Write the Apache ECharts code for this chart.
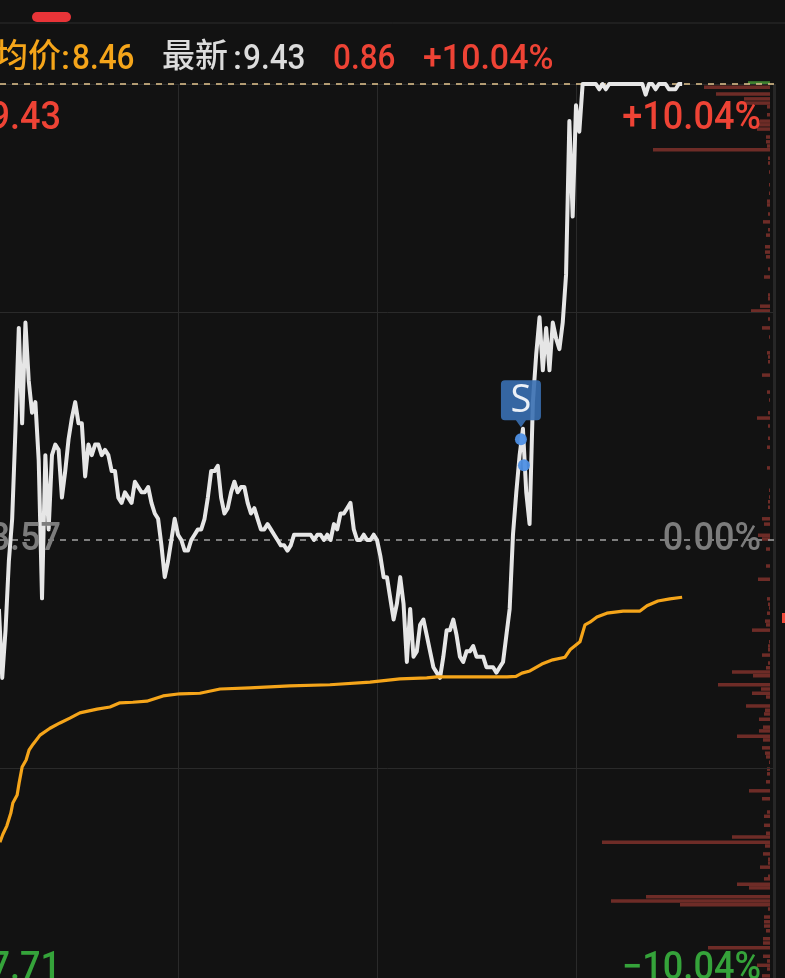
<!DOCTYPE html>
<html><head><meta charset="utf-8">
<style>html,body{margin:0;padding:0;background:#121212;overflow:hidden}#c{width:785px;height:978px}</style>
<script src="https://cdn.jsdelivr.net/npm/echarts@6/dist/echarts.min.js"></script>
</head><body><div id="c"></div>
<script>
const preClose = 8.57, limitUp = 9.43, visibleLow = 7.744;
const gridPrices = [9.43, 9.002, 8.138];
const gridMinutes = [60, 120, 180];
const visibleStartMinute = 6.33, endMinute = 240;
const startMinute = 6;
const prices = [
8.44,8.31,8.40,8.53,8.61,8.78,8.97,8.79,8.98,8.87,
8.81,8.83,8.72,8.46,8.73,8.59,8.73,8.75,8.74,8.65,
8.70,8.76,8.80,8.83,8.79,8.79,8.69,8.75,8.73,8.75,
8.75,8.73,8.74,8.73,8.70,8.70,8.65,8.64,8.66,8.65,
8.64,8.68,8.67,8.66,8.66,8.67,8.64,8.62,8.61,8.56,
8.50,8.53,8.57,8.61,8.58,8.57,8.55,8.55,8.57,8.58,
8.59,8.59,8.61,8.65,8.70,8.70,8.71,8.65,8.62,8.63,
8.66,8.68,8.66,8.67,8.67,8.64,8.62,8.63,8.61,8.59,
8.59,8.60,8.59,8.58,8.57,8.56,8.56,8.55,8.56,8.58,
8.58,8.58,8.58,8.58,8.58,8.57,8.58,8.58,8.57,8.58,
8.57,8.60,8.59,8.62,8.62,8.63,8.64,8.59,8.57,8.57,
8.58,8.57,8.57,8.58,8.57,8.54,8.50,8.50,8.46,8.42,
8.45,8.50,8.45,8.34,8.44,8.35,8.36,8.41,8.42,8.39,
8.36,8.33,8.32,8.31,8.35,8.40,8.40,8.42,8.39,8.35,
8.34,8.36,8.36,8.37,8.35,8.35,8.35,8.33,8.33,8.33,
8.32,8.33,8.34,8.39,8.44,8.58,8.66,8.73,8.78,8.66,
8.60,8.83,8.92,8.99,8.89,8.97,8.89,8.98,8.95,8.93,
8.98,9.07,9.36,9.18,9.39,9.34,9.43,9.43,9.43,9.43,
9.43,9.42,9.43,9.42,9.43,9.43,9.43,9.43,9.43,9.43,
9.43,9.43,9.43,9.43,9.43,9.41,9.43,
9.43,9.42,9.43,9.43,9.43,9.42,9.42,9.42,9.43,9.43
];
const avgMinutes = [6.3,7.2,8.4,9.6,10.2,11.5,12.1,13,14.2,15.1,16.3,18.4,21.4,24.4,27.4,30.4,35.6,39.5,42.5,46.4,50.6,55.5,60.6,66.6,72.7,81.7,93.7,105.8,117.9,126.9,135,138,159.2,161.9,163.7,166.1,169.7,173,176.7,178.2,181.2,182.7,184.2,186.3,189.3,194.2,199.3,201.4,204.7,208.3,212];
const avgPrices = [8.000,8.015,8.031,8.055,8.074,8.089,8.112,8.142,8.155,8.174,8.185,8.202,8.215,8.225,8.234,8.244,8.251,8.255,8.263,8.264,8.266,8.276,8.280,8.281,8.289,8.291,8.295,8.297,8.302,8.308,8.310,8.312,8.312,8.313,8.319,8.323,8.336,8.344,8.349,8.363,8.378,8.410,8.415,8.425,8.432,8.436,8.436,8.446,8.455,8.459,8.462];
const volPrices = [9.424,9.411,9.402,9.394,9.387,9.372,9.360,9.353,9.345,9.330,9.321,9.313,9.306,9.290,9.281,9.264,9.240,9.224,9.209,9.202,9.185,9.170,9.155,9.145,9.123,9.113,9.104,9.081,9.066,9.032,9.025,9.011,9.002,8.987,8.970,8.953,8.923,8.915,8.906,8.881,8.849,8.834,8.810,8.800,8.785,8.762,8.745,8.706,8.664,8.651,8.642,8.632,8.610,8.600,8.579,8.572,8.553,8.521,8.496,8.459,8.449,8.442,8.432,8.417,8.410,8.400,8.378,8.370,8.363,8.353,8.338,8.329,8.321,8.314,8.297,8.289,8.281,8.274,8.257,8.249,8.242,8.232,8.217,8.210,8.200,8.193,8.178,8.168,8.161,8.151,8.138,8.129,8.114,8.097,8.082,8.057,8.049,8.032,8.017,8.010,8.000,7.993,7.978,7.968,7.961,7.953,7.936,7.931,7.921,7.914,7.897,7.889,7.882,7.874,7.859,7.850,7.842,7.833,7.818,7.810,7.801,7.785,7.776,7.768,7.761,7.748];
const volAmounts = [66,54,26,30,3,3,10,12,13,4,4,3,117,2,2,1,1,1,3,3,2,7,2,4,5,5,4,2,6,2,2,10,19,2,8,1,3,2,2,8,3,1,2,13,2,2,3,3,1,1,2,2,8,6,12,8,4,4,12,3,2,1,3,5,4,18,1,2,2,8,2,4,38,17,52,9,18,4,24,5,6,11,7,11,33,7,8,5,4,1,3,3,4,21,8,3,6,6,4,38,168,5,7,2,2,10,2,6,33,21,124,159,90,2,6,6,6,4,7,7,62,7,3,13,3,8];
const greenVol = [[22, 9.432]];
const signalDots = [[163.4, 8.76],[164.3, 8.711]];
const signalFlag = [[163.4, 8.827]];
const headerAvgName = '均价', headerAvg = '8.46', headerLastName = '最新', headerLast = '9.43', headerChange = '0.86', headerPct = '+10.04%';
const leftLabels = ['9.43','8.57','7.71'];
const rightLabels = ['+10.04%','0.00%','−10.04%'];

const BG='#121212', GRID='#2a2a2a', RED='#ee4335', GREEN='#35a33a', GREY='#7c7c7c', ORANGE='#f5a51a';
const FF='Roboto,"Noto Sans CJK SC",sans-serif';
const lineData = prices.map((p,i)=>[startMinute+i,p]);
const avgData = avgPrices.map((p,i)=>[avgMinutes[i],p]);
const volData = volPrices.map((p,i)=>[volAmounts[i],p]);

function barItem(color){return function(params,api){
  const a=api.coord([api.value(0),api.value(1)]), b=api.coord([0,api.value(1)]);
  const h=api.size([0,0.0066])[1];
  return {type:'rect',shape:{x:a[0],y:a[1]-h/2,width:b[0]-a[0],height:h},style:{fill:color}};
};}
function txt(x,y,text,fill,size,align,sx){
  return {type:'text',x:x,y:y,scaleX:sx||1,z:100,silent:true,style:{text:text,fill:fill,fontSize:size,fontWeight:500,fontFamily:FF,textAlign:align||'left',textVerticalAlign:'middle'}};
}

const chart = echarts.init(document.getElementById('c'),null,{renderer:'canvas',width:785,height:978});
chart.setOption({
  backgroundColor:BG, animation:false,
  grid:[{left:0,right:10,top:84,bottom:0,containLabel:false},{left:0,right:15,top:84,bottom:0,containLabel:false}],
  xAxis:[
    {type:'value',gridIndex:0,min:visibleStartMinute,max:endMinute,axisLine:{show:false},axisTick:{show:false},axisLabel:{show:false},splitLine:{show:false}},
    {type:'value',gridIndex:1,min:0,max:770,inverse:true,show:false,splitLine:{show:false}}
  ],
  yAxis:[
    {type:'value',gridIndex:0,min:visibleLow,max:limitUp,axisLine:{show:false},axisTick:{show:false},axisLabel:{show:false},splitLine:{show:false}},
    {type:'value',gridIndex:1,min:visibleLow,max:limitUp,show:false,splitLine:{show:false}}
  ],
  graphic:[
    {type:'line',z:1,silent:true,shape:{x1:0,y1:23,x2:785,y2:23},style:{stroke:'#2c2c2c',lineWidth:1}},
    {type:'rect',z:1,silent:true,shape:{x:32,y:12,width:39,height:10,r:5},style:{fill:'#e83438'}},
    {type:'rect',z:1,silent:true,shape:{x:782,y:613,width:3,height:10},style:{fill:'#f04a3a'}},
    txt(-5,59,headerAvgName,ORANGE,33),
    txt(61,60,':',ORANGE,34),
    txt(72,60,headerAvg,ORANGE,35,'left',0.9),
    txt(162,59,headerLastName,'#dcdcdc',33),
    txt(233,60,':','#dcdcdc',34),
    txt(243,60,headerLast,'#dcdcdc',35,'left',0.9),
    txt(333,60,headerChange,RED,35,'left',0.9),
    txt(423,60,headerPct,RED,35,'left',0.97),
    txt(61,119,leftLabels[0],RED,38,'right',0.95),
    txt(61,540,leftLabels[1],GREY,38,'right',0.95),
    txt(61,969,leftLabels[2],GREEN,38,'right',0.95),
    txt(761,119,rightLabels[0],RED,38,'right',0.95),
    txt(761,540,rightLabels[1],GREY,38,'right',0.95),
    txt(761,969,rightLabels[2],GREEN,38,'right',0.95)
  ],
  series:[
    {type:'custom',name:'chipsRed',xAxisIndex:1,yAxisIndex:1,coordinateSystem:'cartesian2d',clip:false,z:2,silent:true,
     encode:{x:0,y:1},data:volData,renderItem:barItem('#6e2c27')},
    {type:'custom',name:'chipsGreen',xAxisIndex:1,yAxisIndex:1,coordinateSystem:'cartesian2d',clip:false,z:2,silent:true,
     encode:{x:0,y:1},data:greenVol,renderItem:barItem('#3f7f2f')},
    {type:'line',name:'grid',xAxisIndex:0,yAxisIndex:0,data:[],z:1,silent:true,
     markLine:{silent:true,symbol:'none',label:{show:false},animation:false,lineStyle:{color:GRID,width:1,type:'solid'},
       data:gridPrices.map(v=>({yAxis:v})).concat(gridMinutes.map(v=>({xAxis:v})),[{xAxis:endMinute-0.3,lineStyle:{color:'#272727',width:3,type:'solid'}}])}},
    {type:'line',name:'last',xAxisIndex:0,yAxisIndex:0,data:[],z:3,silent:true,
     markLine:{silent:true,symbol:'none',label:{show:false},animation:false,data:[
       {yAxis:limitUp,lineStyle:{color:'#d8bb88',width:1.6,type:[6,6]}},
       {yAxis:preClose,lineStyle:{color:'#9a9a9a',width:1.6,type:[6,6]}}
     ]}},
    {type:'line',name:'price',xAxisIndex:0,yAxisIndex:0,data:lineData,showSymbol:false,smooth:false,clip:false,z:5,silent:true,
     lineStyle:{color:'#e6e6e6',width:4,join:'round'}},
    {type:'line',name:'avg',xAxisIndex:0,yAxisIndex:0,data:avgData,showSymbol:false,smooth:false,clip:false,z:6,silent:true,
     lineStyle:{color:ORANGE,width:3.2,join:'round'}},
    {type:'scatter',name:'flag',xAxisIndex:0,yAxisIndex:0,data:signalFlag,z:7,silent:true,
     symbol:'path://M4 0H36Q40 0 40 4V36Q40 40 36 40H25L20 47L15 40H4Q0 40 0 36V4Q0 0 4 0Z',symbolSize:[40,47],
     itemStyle:{color:'#3a70b2',opacity:0.9},
     label:{show:true,position:'inside',offset:[0,-3],formatter:'S',color:'#fff',fontSize:38,fontFamily:'"Open Sans",Roboto,sans-serif'}},
    {type:'scatter',name:'dots',xAxisIndex:0,yAxisIndex:0,data:signalDots,z:8,silent:true,symbol:'circle',symbolSize:12,
     itemStyle:{color:'#4f90e4',opacity:0.95}}
  ]
});
</script></body></html>
